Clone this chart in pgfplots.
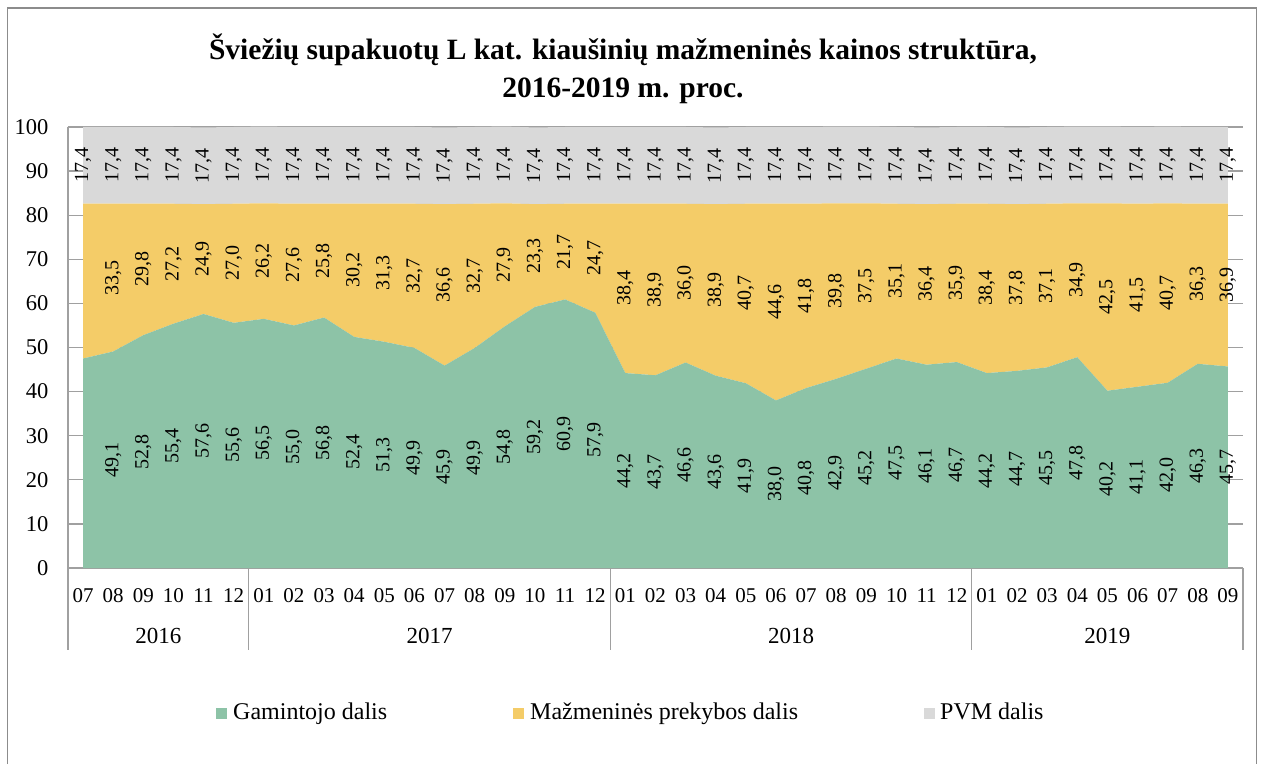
\documentclass[border=0pt]{standalone}
\usepackage{pgfplots}
\pgfplotsset{compat=1.18}
\usepackage{pgfplotstable}
\usepackage{fontspec}
\setmainfont{Liberation Serif}
\definecolor{cg}{RGB}{141,195,167}
\definecolor{cy}{RGB}{244,204,104}
\definecolor{cp}{RGB}{217,217,217}
\definecolor{ax}{RGB}{160,160,160}
\definecolor{fr}{RGB}{140,140,140}

\pgfplotstableread{
x g gl y yl p pl
0 47.5 {} 35.1 {} 17.4 17,4
1 49.1 49,1 33.5 33,5 17.4 17,4
2 52.8 52,8 29.8 29,8 17.4 17,4
3 55.4 55,4 27.2 27,2 17.4 17,4
4 57.6 57,6 24.9 24,9 17.4 17,4
5 55.6 55,6 27.0 27,0 17.4 17,4
6 56.5 56,5 26.2 26,2 17.4 17,4
7 55.0 55,0 27.6 27,6 17.4 17,4
8 56.8 56,8 25.8 25,8 17.4 17,4
9 52.4 52,4 30.2 30,2 17.4 17,4
10 51.3 51,3 31.3 31,3 17.4 17,4
11 49.9 49,9 32.7 32,7 17.4 17,4
12 45.9 45,9 36.6 36,6 17.4 17,4
13 49.9 49,9 32.7 32,7 17.4 17,4
14 54.8 54,8 27.9 27,9 17.4 17,4
15 59.2 59,2 23.3 23,3 17.4 17,4
16 60.9 60,9 21.7 21,7 17.4 17,4
17 57.9 57,9 24.7 24,7 17.4 17,4
18 44.2 44,2 38.4 38,4 17.4 17,4
19 43.7 43,7 38.9 38,9 17.4 17,4
20 46.6 46,6 36.0 36,0 17.4 17,4
21 43.6 43,6 38.9 38,9 17.4 17,4
22 41.9 41,9 40.7 40,7 17.4 17,4
23 38.0 38,0 44.6 44,6 17.4 17,4
24 40.8 40,8 41.8 41,8 17.4 17,4
25 42.9 42,9 39.8 39,8 17.4 17,4
26 45.2 45,2 37.5 37,5 17.4 17,4
27 47.5 47,5 35.1 35,1 17.4 17,4
28 46.1 46,1 36.4 36,4 17.4 17,4
29 46.7 46,7 35.9 35,9 17.4 17,4
30 44.2 44,2 38.4 38,4 17.4 17,4
31 44.7 44,7 37.8 37,8 17.4 17,4
32 45.5 45,5 37.1 37,1 17.4 17,4
33 47.8 47,8 34.9 34,9 17.4 17,4
34 40.2 40,2 42.5 42,5 17.4 17,4
35 41.1 41,1 41.5 41,5 17.4 17,4
36 42.0 42,0 40.7 40,7 17.4 17,4
37 46.3 46,3 36.3 36,3 17.4 17,4
38 45.7 45,7 36.9 36,9 17.4 17,4
}\data

\begin{document}
\begin{tikzpicture}
\useasboundingbox (0,0) rectangle (1261pt,764pt);
\draw[fr, line width=1.6pt] (7.5pt,0pt) -- (7.5pt,756pt) -- (1256.5pt,756pt) -- (1256.5pt,0pt);
\node[font=\fontsize{29.5}{38}\selectfont\bfseries, align=center] at (623pt,695pt)
  {Šviežių supakuotų L kat. kiaušinių mažmeninės kainos struktūra,\\2016-2019 m. proc.};
\begin{axis}[
  at={(68pt,196pt)}, anchor=south west,
  scale only axis, width=1175pt, height=441pt,
  xmin=-0.5, xmax=38.5, ymin=0, ymax=100,
  stack plots=y, clip=false,
  axis x line*=bottom, axis y line*=left,
  axis line style={-, draw=ax, line width=1.3pt},
  ymajorgrids, grid style={draw=ax, line width=1.2pt},
  major tick length=0pt,
  ytick={0,10,...,100},
  xtick={0,...,38},
  xticklabels={07,08,09,10,11,12,01,02,03,04,05,06,07,08,09,10,11,12,01,02,03,04,05,06,07,08,09,10,11,12,01,02,03,04,05,06,07,08,09},
  xticklabel style={font=\fontsize{21}{25}\selectfont, anchor=center, yshift=-28pt},
  yticklabel style={font=\fontsize{22.5}{26}\selectfont, anchor=east, xshift=-16pt},
  /pgf/number format/assume math mode=true,
  every node near coord/.style={font=\fontsize{20}{24}\selectfont, text=black, inner sep=0pt},
]
\addplot[fill=cg, draw=none, mark=none,
  nodes near coords, point meta=explicit symbolic,
  visualization depends on={\thisrow{g}/2 \as \vh},
  every node near coord/.append style={shift={(axis direction cs:0,-\vh)}, rotate=90, anchor=center}]
  table[x=x, y=g, meta=gl] {\data} \closedcycle;
\addplot[fill=cy, draw=none, mark=none,
  nodes near coords, point meta=explicit symbolic,
  visualization depends on={\thisrow{y}/2 \as \vh},
  every node near coord/.append style={shift={(axis direction cs:0,-\vh)}, rotate=90, anchor=center}]
  table[x=x, y=y, meta=yl] {\data} \closedcycle;
\addplot[fill=cp, draw=none, mark=none,
  nodes near coords, point meta=explicit symbolic,
  visualization depends on={\thisrow{p}/2 \as \vh},
  every node near coord/.append style={shift={(axis direction cs:0,-\vh)}, rotate=90, anchor=center}]
  table[x=x, y=p, meta=pl] {\data} \closedcycle;
\draw[ax, line width=1.2pt] (axis cs:-0.5,100) -- (axis cs:38.5,100);
\draw[ax, line width=1.3pt] (axis cs:-0.5,0) -- ++(0pt,-82pt);
\draw[ax, line width=1.3pt] (axis cs:5.5,0) -- ++(0pt,-82pt);
\draw[ax, line width=1.3pt] (axis cs:17.5,0) -- ++(0pt,-82pt);
\draw[ax, line width=1.3pt] (axis cs:29.5,0) -- ++(0pt,-82pt);
\draw[ax, line width=1.3pt] (axis cs:38.5,0) -- ++(0pt,-82pt);
\node[font=\fontsize{23}{27}\selectfont] at ([yshift=-68pt]axis cs:2.5,0) {2016};
\node[font=\fontsize{23}{27}\selectfont] at ([yshift=-68pt]axis cs:11.5,0) {2017};
\node[font=\fontsize{23}{27}\selectfont] at ([yshift=-68pt]axis cs:23.5,0) {2018};
\node[font=\fontsize{23}{27}\selectfont] at ([yshift=-68pt]axis cs:34,0) {2019};
\end{axis}
\fill[cg] (216pt,45.5pt) rectangle (227pt,56.5pt);
\node[font=\fontsize{24}{28}\selectfont, inner sep=0pt, anchor=base west] at (233pt,45pt) {Gamintojo dalis};
\fill[cy] (513pt,45.5pt) rectangle (524pt,56.5pt);
\node[font=\fontsize{24}{28}\selectfont, inner sep=0pt, anchor=base west] at (530pt,45pt) {Mažmeninės prekybos dalis};
\fill[cp] (924pt,45.5pt) rectangle (935pt,56.5pt);
\node[font=\fontsize{24}{28}\selectfont, inner sep=0pt, anchor=base west] at (940pt,45pt) {PVM dalis};
\end{tikzpicture}
\end{document}
